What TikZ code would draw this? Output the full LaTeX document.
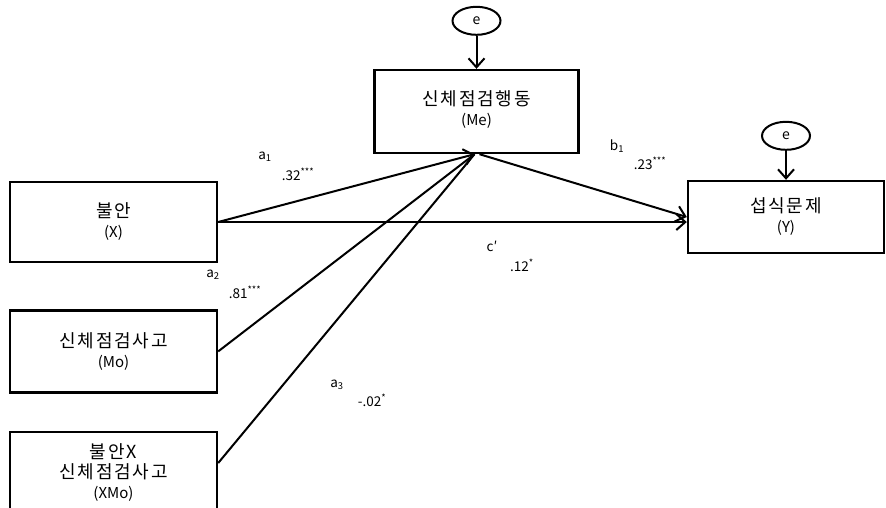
\documentclass[tikz,border=0pt]{standalone}
\usepackage{fontspec}
\setmainfont{Noto Sans CJK KR}
\usetikzlibrary{arrows.meta,positioning,shapes.geometric}

\newcommand{\kor}[1]{{\addfontfeature{LetterSpace=10}#1}}
\newcommand{\lat}[1]{{\fontsize{15}{20}\selectfont #1}}

\begin{document}
\begin{tikzpicture}[
  x=1pt, y=-1pt,
  node distance=40pt,
  box/.style={draw, line width=2.4pt, align=center, minimum width=207pt, minimum height=80pt, inner sep=0pt, font=\fontsize{18}{20}\selectfont},
  errc/.style={draw, ellipse, line width=2pt, minimum width=48pt, minimum height=28pt, inner sep=0pt, font=\fontsize{14}{14}\selectfont},
  arr/.style={-{Straight Barb[length=9pt,width=16pt,line width=2pt]}, line width=2pt},
  lnk/.style={line width=2pt},
  lbl/.style={inner sep=0pt, font=\fontsize{13.5}{14}\selectfont}
]
\useasboundingbox (0,0) rectangle (886,507);

% variables
\node[box] (x) at (113.5,222) {\kor{불안}\\\lat{(X)}};
\node[box, minimum height=82pt, below=46pt of x] (mo) {\kor{신체점검사고}\\\lat{(Mo)}};
\node[box, minimum height=82pt, below=37pt of mo] (xmo) {\kor{불안X}\\\kor{신체점검사고}\\\lat{(XMo)}};
\node[box, minimum width=204pt, minimum height=83pt] (me) at (476.5,111.5) {\kor{신체점검행동}\\\lat{(Me)}\\[-14pt]};
\node[box, minimum width=196pt, minimum height=72pt] (y) at (786,217) {\kor{섭식문제}\\\lat{(Y)}};

% errors
\node[errc, above=33pt of me] (eme) {e};
\node[errc, above=29pt of y] (ey) {e};

% paths
\coordinate (hit) at ([xshift=-2pt]me.south);
\draw[arr] (eme) -- (me);
\draw[arr] (ey) -- (y);
\draw[arr] (x.east) -- (hit);
\draw[lnk] (mo.east) -- (hit);
\draw[lnk] (xmo.east |- 0,463) -- (hit);
\draw[arr] ([xshift=3pt]me.south) -- (y.west);
\draw[arr] (x.east) -- (x.east -| y.west);

% coefficients
\node[lbl] (la1) at (265,157) {a\textsubscript{1}};
\node[lbl] (va1) at (298,174) {.32\textsuperscript{***}};
\node[lbl] (la2) at (213,275) {a\textsubscript{2}};
\node[lbl] (va2) at (245,292) {.81\textsuperscript{***}};
\node[lbl] (la3) at (337,385) {a\textsubscript{3}};
\node[lbl] (va3) at (372,400) {-.02\textsuperscript{*}};
\node[lbl] (lb1) at (617,146) {b\textsubscript{1}};
\node[lbl] (vb1) at (650,163) {.23\textsuperscript{***}};
\node[lbl] (lc) at (492,246) {c′};
\node[lbl] (vc) at (522,265) {.12\textsuperscript{*}};
\end{tikzpicture}
\end{document}
